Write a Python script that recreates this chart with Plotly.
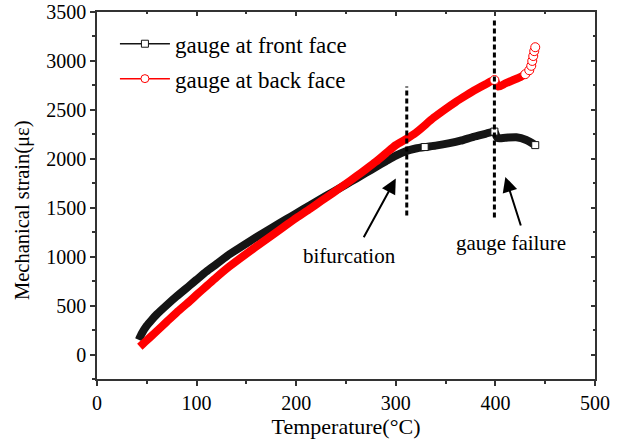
import plotly.graph_objects as go

# ---------------- data ----------------
front_temp = [42, 45, 50, 55, 60, 70, 80, 93, 100, 110, 120, 133, 145, 160, 175, 190,
              200, 214, 225, 237, 250, 260, 270, 280, 290, 300, 310, 320, 329, 340, 354,
              365, 378, 390, 399, 402, 410, 421, 431, 440]
front_strain = [150, 215, 295, 355, 410, 505, 595, 705, 765, 850, 925, 1025, 1103, 1200,
                1292, 1382, 1442, 1526, 1591, 1662, 1738, 1797, 1856, 1915, 1975, 2033,
                2078, 2105, 2120, 2135, 2160, 2185, 2225, 2255, 2278, 2212, 2215, 2220,
                2192, 2140]

back_temp = [43, 46, 50, 55, 60, 70, 80, 93, 100, 110, 120, 133, 150, 167, 187, 200,
             214, 225, 237, 250, 260, 270, 280, 290, 300, 311, 320, 338, 350, 360, 371,
             380, 390, 399, 403, 410, 418, 425, 430, 434, 436, 437, 438, 439, 440]
back_strain = [80, 108, 145, 192, 240, 335, 430, 545, 610, 700, 790, 900, 1030, 1155, 1300,
               1395, 1490, 1568, 1652, 1745, 1818, 1893, 1970, 2055, 2140, 2205, 2265, 2420,
               2510, 2580, 2650, 2705, 2760, 2805, 2738, 2770, 2805, 2835, 2865, 2905, 2950,
               3000, 3050, 3100, 3140]

# points where the open marker is visible on top of the dense band
front_open_at = [329, 399, 440]
back_open_at = [399, 430, 434, 436, 437, 438, 439, 440]

series_names = ["gauge at front face", "gauge at back face"]
x_ticks = [0, 100, 200, 300, 400, 500]
y_ticks = [0, 500, 1000, 1500, 2000, 2500, 3000, 3500]

bifurcation_temp = 311
failure_temp = 399

# ---------------- styling ----------------
FONT = "Liberation Serif, Times New Roman, serif"
BLACK = "#151515"
RED = "#ff0000"
AXC = "#333333"

fig = go.Figure()

def band(xs, ys, color):
    fig.add_trace(go.Scatter(x=xs, y=ys, mode="lines",
                             line=dict(color=color, width=8, shape="spline", smoothing=0.6),
                             showlegend=False, hoverinfo="skip"))

def opens(xs, ys, sel, color, symbol, size):
    px = [x for x in xs if x in sel]
    py = [y for x, y in zip(xs, ys) if x in sel]
    fig.add_trace(go.Scatter(x=px, y=py, mode="markers",
                             marker=dict(symbol=symbol, size=size, color="white",
                                         line=dict(color=color, width=1)),
                             showlegend=False, hoverinfo="skip"))

band(front_temp, front_strain, BLACK)
opens(front_temp, front_strain, front_open_at, BLACK, "square", 7)
band(back_temp, back_strain, RED)
opens(back_temp, back_strain, back_open_at, RED, "circle", 9)

# legend entries
fig.add_trace(go.Scatter(x=[None], y=[None], mode="lines+markers", name=series_names[0],
                         legendgroup="a",
                         line=dict(color=BLACK, width=1.5),
                         marker=dict(symbol="square", size=7, color="white",
                                     line=dict(color=BLACK, width=1))))
fig.add_trace(go.Scatter(x=[None], y=[None], mode="lines+markers", name=series_names[1],
                         legendgroup="b",
                         line=dict(color=RED, width=1.5),
                         marker=dict(symbol="circle", size=8, color="white",
                                     line=dict(color=RED, width=1))))

# dashed vertical lines
fig.add_shape(type="line", x0=bifurcation_temp, x1=bifurcation_temp, y0=1420, y1=2740,
              line=dict(color="black", width=3, dash="5px,3px"))
fig.add_shape(type="line", x0=failure_temp, x1=failure_temp, y0=1400, y1=3420,
              line=dict(color="black", width=3, dash="5px,3px"))

# arrows
fig.add_annotation(x=300, y=1798, ax=267, ay=1184, xref="x", yref="y", axref="x", ayref="y",
                   text="", showarrow=True, arrowhead=2, arrowsize=1.5, arrowwidth=2,
                   arrowcolor="black", standoff=0)
fig.add_annotation(x=410, y=1815, ax=426, ay=1303, xref="x", yref="y", axref="x", ayref="y",
                   text="", showarrow=True, arrowhead=2, arrowsize=1.5, arrowwidth=2,
                   arrowcolor="black", standoff=0)
fig.add_annotation(x=254, y=1010, xref="x", yref="y", text="bifurcation", showarrow=False,
                   font=dict(family=FONT, size=21, color="black"))
fig.add_annotation(x=416, y=1135, xref="x", yref="y", text="gauge failure", showarrow=False,
                   font=dict(family=FONT, size=21, color="black"))

# y-axis title (placed like the original, slightly below the axis centre)
plot_l, plot_r, plot_t, plot_b = 97, 595, 12, 379
fig.add_annotation(x=(22 - plot_l) / (plot_r - plot_l), y=(plot_b - 210) / (plot_b - plot_t),
                   xref="paper", yref="paper", text="Mechanical strain(με)",
                   showarrow=False, textangle=-90, xanchor="center", yanchor="middle",
                   font=dict(family=FONT, size=20.5, color="black"))

axis_common = dict(showgrid=False, zeroline=False, showline=True, linecolor=AXC, linewidth=1.5,
                   tickcolor=AXC, tickwidth=1.5, automargin=False,
                   tickfont=dict(family=FONT, size=20, color="black"))

fig.update_layout(
    width=625, height=443,
    margin=dict(l=plot_l, r=625 - plot_r, t=plot_t, b=443 - plot_b),
    paper_bgcolor="white", plot_bgcolor="white",
    font=dict(family=FONT, size=20, color="black"),
    xaxis=dict(range=[0, 500], tickvals=x_ticks, ticks="outside", ticklen=5,
               minor=dict(dtick=50, tick0=0, ticks="outside", ticklen=3, tickcolor=AXC),
               title=dict(text="Temperature(°C)", font=dict(family=FONT, size=22), standoff=5),
               **axis_common),
    yaxis=dict(range=[-250, 3500], tickvals=y_ticks, ticks="outside", ticklen=5,
               minor=dict(dtick=250, tick0=0, ticks="outside", ticklen=3, tickcolor=AXC),
               **axis_common),
    xaxis2=dict(range=[0, 500], overlaying="x", side="top", tickvals=x_ticks, ticks="inside",
                ticklen=4, showticklabels=False,
                minor=dict(dtick=50, tick0=0, ticks="inside", ticklen=2, tickcolor=AXC),
                **axis_common),
    yaxis2=dict(range=[-250, 3500], overlaying="y", side="right", tickvals=y_ticks,
                ticks="inside", ticklen=4, showticklabels=False,
                minor=dict(dtick=250, tick0=0, ticks="inside", ticklen=2, tickcolor=AXC),
                **axis_common),
    legend=dict(x=0.036, y=0.972, xanchor="left", yanchor="top", bgcolor="rgba(0,0,0,0)",
                font=dict(family=FONT, size=23, color="black"), itemwidth=50,
                tracegroupgap=2),
    showlegend=True,
)

# dummy trace to activate the mirrored axes
fig.add_trace(go.Scatter(x=[None], y=[None], xaxis="x2", yaxis="y2", showlegend=False,
                         hoverinfo="skip"))

fig.write_html("out.html")
